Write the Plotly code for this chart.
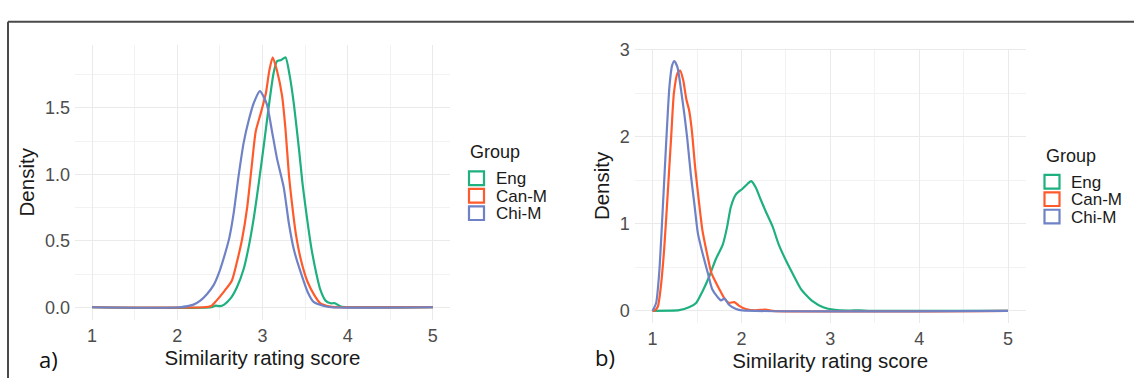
import plotly.graph_objects as go

W, H = 1134, 378

groups = ["Eng", "Can-M", "Chi-M"]
colors = ["#1FB07F", "#FF5A2C", "#6F82C6"]

# ---- Panel a) data (Similarity rating score vs density)
a_eng_x = [1.0, 2.40, 2.45, 2.50, 2.55, 2.63, 2.70, 2.78, 2.84, 2.90, 2.96, 3.02, 3.08, 3.13, 3.17, 3.22, 3.27, 3.32, 3.37, 3.43, 3.47, 3.51, 3.57, 3.63, 3.68, 3.74, 3.80, 3.85, 3.92, 4.0, 5.0]
a_eng_y = [0.0, 0.0, 0.012, 0.008, 0.02, 0.07, 0.15, 0.29, 0.46, 0.68, 0.95, 1.24, 1.54, 1.76, 1.85, 1.86, 1.88, 1.74, 1.52, 1.18, 0.93, 0.73, 0.46, 0.26, 0.13, 0.05, 0.03, 0.03, 0.005, 0.0, 0.0]

a_can_x = [1.0, 2.30, 2.40, 2.46, 2.55, 2.64, 2.70, 2.76, 2.82, 2.88, 2.92, 2.98, 3.04, 3.08, 3.12, 3.17, 3.23, 3.27, 3.31, 3.35, 3.39, 3.45, 3.53, 3.61, 3.68, 3.80, 3.90, 5.0]
a_can_y = [0.0, 0.0, 0.01, 0.05, 0.12, 0.20, 0.34, 0.51, 0.75, 1.10, 1.32, 1.46, 1.61, 1.78, 1.88, 1.78, 1.59, 1.34, 1.00, 0.76, 0.56, 0.36, 0.19, 0.09, 0.03, 0.005, 0.0, 0.0]

a_chi_x = [1.0, 2.03, 2.19, 2.27, 2.35, 2.43, 2.49, 2.55, 2.61, 2.66, 2.72, 2.78, 2.84, 2.90, 2.97, 3.05, 3.11, 3.17, 3.25, 3.31, 3.37, 3.45, 3.53, 3.60, 3.72, 3.80, 5.0]
a_chi_y = [0.0, 0.0, 0.02, 0.05, 0.10, 0.17, 0.26, 0.38, 0.52, 0.70, 0.99, 1.24, 1.41, 1.54, 1.625, 1.53, 1.33, 1.12, 0.90, 0.63, 0.43, 0.26, 0.115, 0.04, 0.01, 0.0, 0.0]

# ---- Panel b) data
b_eng_x = [1.0, 1.30, 1.41, 1.49, 1.56, 1.64, 1.71, 1.79, 1.84, 1.88, 1.94, 2.01, 2.07, 2.11, 2.16, 2.22, 2.27, 2.35, 2.42, 2.50, 2.59, 2.67, 2.80, 2.92, 3.05, 3.20, 3.33, 3.45, 5.0]
b_eng_y = [0.0, 0.007, 0.04, 0.09, 0.22, 0.40, 0.59, 0.76, 0.97, 1.19, 1.34, 1.40, 1.46, 1.49, 1.42, 1.27, 1.15, 0.97, 0.76, 0.58, 0.40, 0.25, 0.11, 0.04, 0.01, 0.002, 0.006, 0.0, 0.0]

b_can_x = [1.0, 1.02, 1.06, 1.09, 1.13, 1.17, 1.21, 1.24, 1.28, 1.31, 1.345, 1.38, 1.41, 1.44, 1.48, 1.52, 1.56, 1.61, 1.66, 1.69, 1.75, 1.81, 1.86, 1.92, 1.97, 2.05, 2.16, 2.27, 2.35, 5.0]
b_can_y = [0.0, 0.0, 0.05, 0.25, 0.70, 1.34, 2.01, 2.50, 2.73, 2.76, 2.65, 2.43, 2.31, 2.09, 1.64, 1.27, 0.93, 0.67, 0.44, 0.37, 0.25, 0.14, 0.09, 0.10, 0.06, 0.02, 0.005, 0.015, 0.0, 0.0]

b_chi_x = [1.0, 1.04, 1.075, 1.11, 1.15, 1.19, 1.22, 1.245, 1.28, 1.32, 1.36, 1.39, 1.43, 1.47, 1.51, 1.56, 1.62, 1.67, 1.73, 1.77, 1.81, 1.86, 1.94, 2.01, 5.0]
b_chi_y = [0.0, 0.09, 0.44, 1.08, 1.87, 2.58, 2.82, 2.87, 2.80, 2.54, 2.24, 1.98, 1.57, 1.23, 0.89, 0.67, 0.44, 0.25, 0.16, 0.12, 0.14, 0.07, 0.02, 0.004, 0.0]

x_ticks = [1, 2, 3, 4, 5]
a_y_ticks = [0.0, 0.5, 1.0, 1.5]
b_y_ticks = [0, 1, 2, 3]
x_title = "Similarity rating score"
y_title = "Density"
legend_title = "Group"
panel_labels = ["a)", "b)"]


def px_x(p):
    return p / W


def px_y(p):
    return 1 - p / H


FONT = "Liberation Sans, Arial, sans-serif"
fig = go.Figure()

panels = [
    ([a_eng_x, a_can_x, a_chi_x], [a_eng_y, a_can_y, a_chi_y], "x", "y"),
    ([b_eng_x, b_can_x, b_chi_x], [b_eng_y, b_can_y, b_chi_y], "x2", "y2"),
]
for xs, ys, xa, ya in panels:
    for g, c, x, y in zip(groups, colors, xs, ys):
        fig.add_trace(go.Scatter(x=x, y=y, mode="lines", name=g, xaxis=xa, yaxis=ya,
                                 line=dict(color=c, width=2.2, shape="spline", smoothing=0.6),
                                 showlegend=False))

grid_major = "#EAEAEA"
grid_minor = "#F2F2F2"
tickfont = dict(family=FONT, size=18, color="#4D4D4D")
titlefont = dict(family=FONT, size=20.5, color="#1A1A1A")

common_x = dict(range=[0.8, 5.2], tickvals=x_ticks, showgrid=True, gridcolor=grid_major, gridwidth=1.1,
                zeroline=False, showline=False, ticks="", tickfont=tickfont,
                minor=dict(dtick=0.5, tick0=0, showgrid=True, gridcolor=grid_minor, gridwidth=0.8),
                title=dict(text=x_title, font=titlefont, standoff=1), ticklabelstandoff=3, fixedrange=True)

fig.update_layout(
    width=W, height=H, margin=dict(l=0, r=0, t=0, b=0),
    paper_bgcolor="white", plot_bgcolor="white", showlegend=False,
    xaxis=dict(common_x, domain=[px_x(75.06), px_x(449.9)], anchor="y"),
    yaxis=dict(range=[-0.094, 1.974], domain=[px_y(318.5), px_y(37.6)], anchor="x",
               tickvals=a_y_ticks, tickformat=".1f", showgrid=True, gridcolor=grid_major, gridwidth=1.1,
               zeroline=False, showline=False, ticks="", tickfont=tickfont,
               minor=dict(dtick=0.25, tick0=0, showgrid=True, gridcolor=grid_minor, gridwidth=0.8),
               title=dict(text=y_title, font=titlefont, standoff=4), ticklabelstandoff=4),
    xaxis2=dict(common_x, domain=[px_x(634.8), px_x(1025.8)], anchor="y2"),
    yaxis2=dict(range=[-0.1435, 3.0135], domain=[px_y(322.1), px_y(41.4)], anchor="x2",
                tickvals=b_y_ticks, showgrid=True, gridcolor=grid_major, gridwidth=1.1,
                zeroline=False, showline=False, ticks="", tickfont=tickfont,
                minor=dict(dtick=0.5, tick0=0, showgrid=True, gridcolor=grid_minor, gridwidth=0.8),
                title=dict(text=y_title, font=titlefont, standoff=4), ticklabelstandoff=4),
)

shapes = []
annotations = []
# Frame around the figure (top and left edges)
shapes.append(dict(type="line", xref="paper", yref="paper", x0=px_x(8), x1=px_x(1134), y0=px_y(14), y1=px_y(14),
                   line=dict(color="#4A4A4A", width=2)))
shapes.append(dict(type="line", xref="paper", yref="paper", x0=px_x(8), x1=px_x(8), y0=px_y(14), y1=px_y(378),
                   line=dict(color="#4A4A4A", width=2)))

# Legends (one per panel)
legend_pos = [(468.0, 147.5, 166.0), (1043.5, 151.7, 169.5)]
for lx, ty, ky in legend_pos:
    annotations.append(dict(text=legend_title, xref="paper", yref="paper", x=px_x(lx), y=px_y(ty),
                            xanchor="left", yanchor="middle", showarrow=False,
                            font=dict(family=FONT, size=18, color="#1A1A1A")))
    for i, (g, c) in enumerate(zip(groups, colors)):
        top = ky + i * 17.8
        shapes.append(dict(type="rect", xref="paper", yref="paper",
                           x0=px_x(lx + 1), x1=px_x(lx + 16), y0=px_y(top + 1), y1=px_y(top + 15),
                           line=dict(color=c, width=2.2), fillcolor="white"))
        annotations.append(dict(text=g, xref="paper", yref="paper", x=px_x(lx + 26.5), y=px_y(top + 8.5),
                                xanchor="left", yanchor="middle", showarrow=False, borderpad=0,
                                font=dict(family=FONT, size=17, color="#1A1A1A")))

# Panel labels
for lab, (lx, ly) in zip(panel_labels, [(48, 359), (605, 357)]):
    annotations.append(dict(text=lab, xref="paper", yref="paper", x=px_x(lx), y=px_y(ly),
                            xanchor="center", yanchor="middle", showarrow=False,
                            font=dict(family="Open Sans, sans-serif", size=22, color="#111111")))

fig.update_layout(shapes=shapes, annotations=annotations)
fig.write_html("out.html")
